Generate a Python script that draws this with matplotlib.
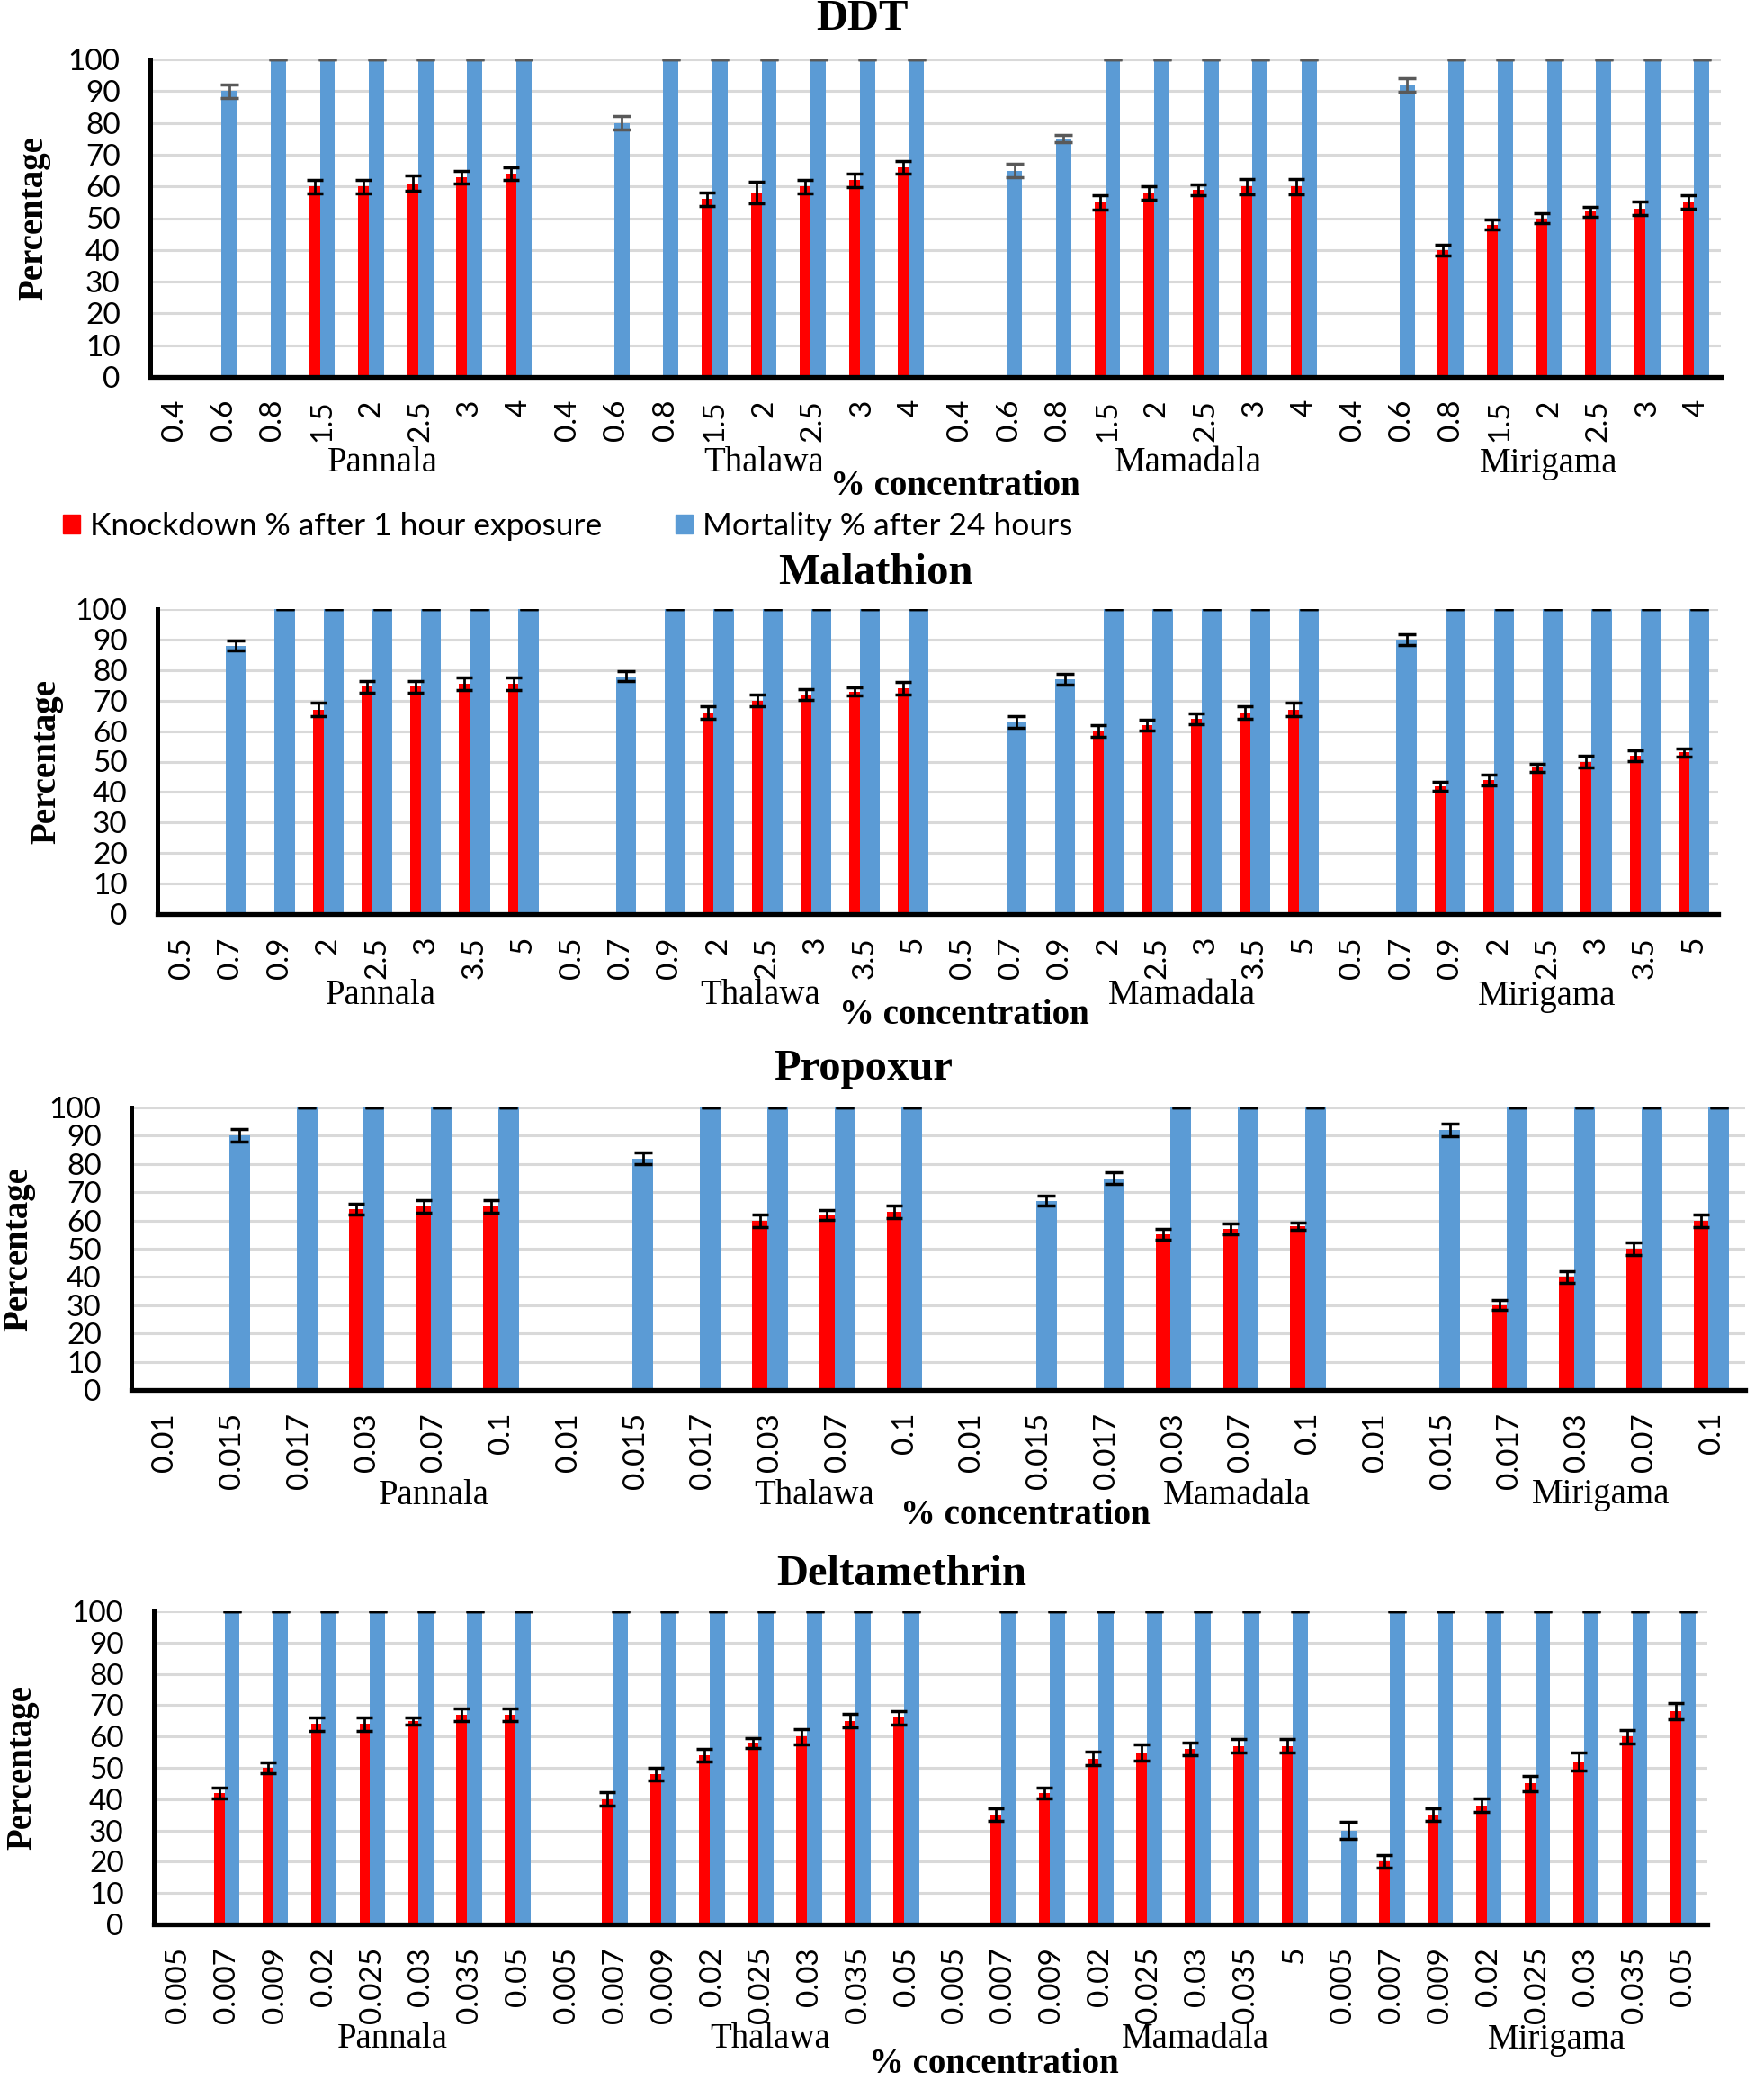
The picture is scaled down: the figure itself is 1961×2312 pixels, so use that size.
import numpy as np
import matplotlib
matplotlib.use('Agg')
import matplotlib.pyplot as plt
from matplotlib.patches import Patch
from matplotlib import transforms

nan = np.nan
W, H = 1961, 2312

RED = '#FF0000'
BLUE = '#5B9BD5'
sites = ['Pannala', 'Thalawa', 'Mamadala', 'Mirigama']

# DDT
ddt_conc = ['0.4', '0.6', '0.8', '1.5', '2', '2.5', '3', '4'] * 4
ddt_knock = [nan, nan, nan, 60, 60, 61, 63, 64,
             nan, nan, nan, 56, 58, 60, 62, 66,
             nan, nan, nan, 55, 58, 59, 60, 60,
             nan, nan, 40, 48, 50, 52, 53, 55]
ddt_knock_err = [0, 0, 0, 2.1, 2.1, 2.5, 2, 2,
                 0, 0, 0, 2.1, 3.4, 2.1, 2.1, 2,
                 0, 0, 0, 2.2, 2.1, 1.7, 2.4, 2.4,
                 0, 0, 1.7, 1.6, 1.6, 1.6, 2.1, 2.1]
ddt_mort = [nan, 90, 100, 100, 100, 100, 100, 100,
            nan, 80, 100, 100, 100, 100, 100, 100,
            nan, 65, 75, 100, 100, 100, 100, 100,
            nan, 92, 100, 100, 100, 100, 100, 100]
ddt_mort_err = [0, 2.1, 0, 0, 0, 0, 0, 0,
                0, 2.1, 0, 0, 0, 0, 0, 0,
                0, 2.1, 1.2, 0, 0, 0, 0, 0,
                0, 2.1, 0, 0, 0, 0, 0, 0]

# Malathion
mal_conc = ['0.5', '0.7', '0.9', '2', '2.5', '3', '3.5', '5'] * 4
mal_knock = [nan, nan, nan, 67, 74.5, 74.5, 75.5, 75.5,
             nan, nan, nan, 66, 70, 72, 73, 74,
             nan, nan, nan, 60, 62, 64, 66, 67,
             nan, nan, 42, 44, 48, 50, 52, 53]
mal_knock_err = [0, 0, 0, 2.2, 2, 2, 2, 2,
                 0, 0, 0, 2, 2, 1.8, 1.4, 2,
                 0, 0, 0, 2, 1.8, 1.7, 2, 2.2,
                 0, 0, 1.5, 1.7, 1.4, 1.8, 1.8, 1.3]
mal_mort = [nan, 88, 100, 100, 100, 100, 100, 100,
            nan, 78, 100, 100, 100, 100, 100, 100,
            nan, 63, 77, 100, 100, 100, 100, 100,
            nan, 90, 100, 100, 100, 100, 100, 100]
mal_mort_err = [0, 1.6, 0, 0, 0, 0, 0, 0,
                0, 1.5, 0, 0, 0, 0, 0, 0,
                0, 2, 1.8, 0, 0, 0, 0, 0,
                0, 1.8, 0, 0, 0, 0, 0, 0]

# Propoxur
pro_conc = ['0.01', '0.015', '0.017', '0.03', '0.07', '0.1'] * 4
pro_knock = [nan, nan, nan, 64, 65, 65,
             nan, nan, nan, 60, 62, 63,
             nan, nan, nan, 55, 57, 58,
             nan, nan, 30, 40, 50, 60]
pro_knock_err = [0, 0, 0, 1.8, 2.3, 2.3,
                 0, 0, 0, 2.2, 1.7, 2.2,
                 0, 0, 0, 1.9, 1.8, 1.3,
                 0, 0, 1.7, 2.1, 2.1, 2.2]
pro_mort = [nan, 90, 100, 100, 100, 100,
            nan, 82, 100, 100, 100, 100,
            nan, 67, 75, 100, 100, 100,
            nan, 92, 100, 100, 100, 100]
pro_mort_err = [0, 2.2, 0, 0, 0, 0,
                0, 2.2, 0, 0, 0, 0,
                0, 1.7, 2.1, 0, 0, 0,
                0, 2.3, 0, 0, 0, 0]

# Deltamethrin
del_conc = (['0.005', '0.007', '0.009', '0.02', '0.025', '0.03', '0.035', '0.05'] * 2
            + ['0.005', '0.007', '0.009', '0.02', '0.025', '0.03', '0.035', '5']
            + ['0.005', '0.007', '0.009', '0.02', '0.025', '0.03', '0.035', '0.05'])
del_knock = [nan, 42, 50, 64, 64, 65, 67, 67,
             nan, 40, 48, 54, 58, 60, 65, 66,
             nan, 35, 42, 53, 55, 56, 57, 57,
             nan, 20, 35, 38, 45, 52, 60, 68]
del_knock_err = [0, 1.7, 1.6, 2.1, 2.1, 1.1, 2, 2,
                 0, 2.1, 2, 2, 1.6, 2.5, 2.1, 2.1,
                 0, 2, 1.7, 2.1, 2.6, 2, 2.1, 2.1,
                 0, 2, 2, 2.1, 2.5, 2.8, 2.1, 2.6]
del_mort = [nan, 100, 100, 100, 100, 100, 100, 100,
            nan, 100, 100, 100, 100, 100, 100, 100,
            nan, 100, 100, 100, 100, 100, 100, 100,
            30, 100, 100, 100, 100, 100, 100, 100]
del_mort_err = [0] * 24 + [2.8, 0, 0, 0, 0, 0, 0, 0]

SERIF = 'Liberation Serif'
SANS = 'Lato'
TICK_SIZE = 24


def fy(py):
    return 1 - py / H


def draw_panel(box, title, title_xy, conc, knock, knock_err, mort, mort_err,
               wr, wb, site_x, label_y, conc_label_x, conc_label_y, ylabel_x,
               err_col):
    left, right, top, bottom = box
    ax = fig.add_axes([left / W, 1 - bottom / H, (right - left) / W, (bottom - top) / H])
    n = len(conc)
    x = np.arange(n)
    total = wr + wb
    xr = x - total / 2 + wr / 2
    xb = x - total / 2 + wr + wb / 2
    ax.bar(xr, knock, width=wr, color=RED, zorder=2)
    ax.bar(xb, mort, width=wb, color=BLUE, zorder=3)
    ax.errorbar(xr, knock, yerr=knock_err, fmt='none', ecolor='black',
                elinewidth=2, capsize=6.5, capthick=2.5, zorder=4)
    ax.errorbar(xb, mort, yerr=mort_err, fmt='none', ecolor=err_col,
                elinewidth=2, capsize=7, capthick=2.5, zorder=4)
    ax.set_xlim(-0.5, n - 0.5)
    ax.set_ylim(0, 100)
    ax.set_yticks(np.arange(0, 101, 10))
    ax.yaxis.grid(True, color='#d9d9d9', linewidth=2.2)
    ax.set_axisbelow(True)
    ax.set_xticks(x)
    ax.set_xticklabels(conc, rotation=90, fontsize=TICK_SIZE, family=SANS)
    for lab in ax.get_yticklabels():
        lab.set_fontsize(TICK_SIZE)
        lab.set_family(SANS)
    ax.tick_params(axis='both', length=0)
    ax.tick_params(axis='y', pad=24)
    ax.tick_params(axis='x', pad=18)
    for s in ['top', 'right']:
        ax.spines[s].set_visible(False)
    ax.spines['left'].set_linewidth(3.6)
    ax.spines['bottom'].set_linewidth(3.8)
    ax.spines['left'].set_zorder(5)
    ax.spines['bottom'].set_zorder(5)

    tr = transforms.blended_transform_factory(ax.transData, fig.transFigure)
    for name, sx in zip(sites, site_x):
        ax.text(sx, fy(label_y), name, transform=tr, ha='center', va='center',
                fontsize=28, family=SERIF)
    ax.text(conc_label_x, fy(conc_label_y), '% concentration', transform=tr,
            ha='center', va='center', fontsize=28, family=SERIF, fontweight='bold')
    fig.text(title_xy[0] / W, fy(title_xy[1]), title, ha='center', va='center',
             fontsize=35, family=SERIF, fontweight='bold')
    fig.text(ylabel_x / W, fy((top + bottom) / 2), 'Percentage', rotation=90,
             ha='center', va='center', fontsize=28, family=SERIF, fontweight='bold')
    return ax


fig = plt.figure(figsize=(W / 100, H / 100), dpi=100)

draw_panel((167, 1913, 66, 419), 'DDT', (958, 21), ddt_conc, ddt_knock, ddt_knock_err,
           ddt_mort, ddt_mort_err, 0.22, 0.31, [4.24, 12.0, 20.65, 28.0], 515,
           15.9, 541, 38, '#595959')
draw_panel((175, 1910, 677, 1016), 'Malathion', (973, 637), mal_conc, mal_knock,
           mal_knock_err, mal_mort, mal_mort_err, 0.22, 0.41,
           [4.08, 11.86, 20.5, 27.98], 1107, 16.05, 1129, 52, 'black')
draw_panel((146, 1940, 1231, 1545), 'Propoxur', (960, 1188), pro_conc, pro_knock,
           pro_knock_err, pro_mort, pro_mort_err, 0.22, 0.31,
           [4.0, 9.65, 15.94, 21.35], 1662, 12.8, 1684, 21, 'black')
draw_panel((171, 1898, 1791, 2139), 'Deltamethrin', (1002, 1750), del_conc, del_knock,
           del_knock_err, del_mort, del_mort_err, 0.22, 0.31,
           [4.41, 12.2, 20.95, 28.4], 2267, 16.8, 2295, 25, 'black')

handles = [Patch(color=RED), Patch(color=BLUE)]
fig.legend(handles, ['Knockdown % after 1 hour exposure', 'Mortality % after 24 hours'],
           loc='center left', bbox_to_anchor=(70 / W, fy(585)), ncol=2, frameon=False,
           prop={'family': SANS, 'size': 25.5}, handlelength=0.55, handleheight=0.55,
           handletextpad=0.3, columnspacing=2.3, borderaxespad=0, borderpad=0)

fig.savefig('out.png', dpi=100)
